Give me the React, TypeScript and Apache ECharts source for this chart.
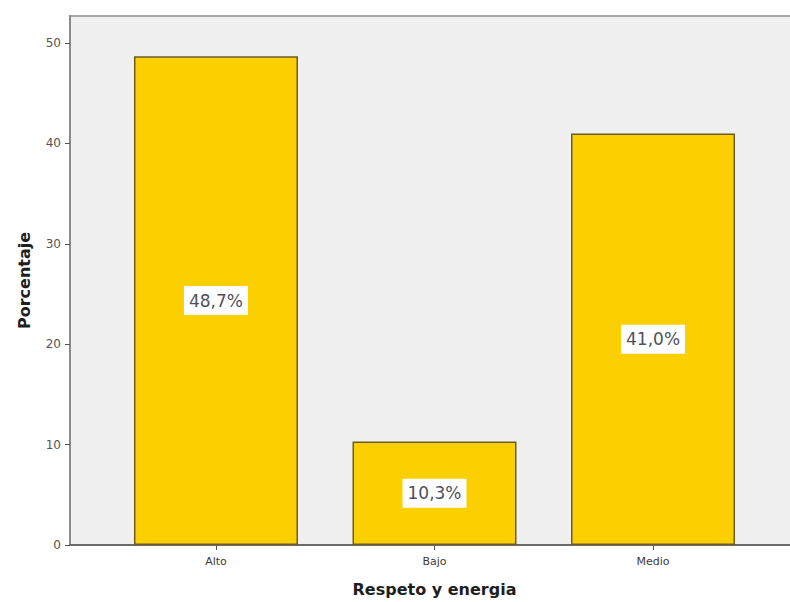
import React, { useEffect, useRef } from "react";
import * as echarts from "echarts";

const categories = ["Alto", "Bajo", "Medio"];
const percentages = [48.7, 10.3, 41.0];
const yTicks = [0, 10, 20, 30, 40, 50];

export default function App() {
  const ref = useRef<HTMLDivElement>(null);
  useEffect(() => {
    if (!ref.current) return;
    const chart = echarts.init(ref.current, undefined, { renderer: "svg" });
    const font = "DejaVu Sans, Verdana, sans-serif";
    chart.setOption({
      animation: false,
      textStyle: { fontFamily: font },
      grid: {
        left: 70,
        top: 16,
        right: -9,
        bottom: 57,
        outerBoundsMode: "none",
        containLabel: false,
        show: true,
        backgroundColor: "#f0f0f0",
        borderColor: "#a8a8a8",
        borderWidth: 2,
      },
      xAxis: {
        type: "value",
        min: -0.668,
        max: 2.668,
        name: "Respeto y energia",
        nameLocation: "middle",
        nameGap: 36,
        nameTextStyle: { fontFamily: font, fontWeight: "bold", fontSize: 16, color: "#1e1e1e" },
        splitLine: { show: false },
        axisLine: { show: true, onZero: false, lineStyle: { color: "#6a6a6a", width: 2 } },
        axisTick: {
          show: true,
          length: 5,
          customValues: [0, 1, 2],
          lineStyle: { color: "#555", width: 1 },
        },
        axisLabel: {
          customValues: [0, 1, 2],
          formatter: (v: number) => categories[Math.round(v)] ?? "",
          fontFamily: font,
          fontSize: 11,
          color: "#3a3a3a",
          margin: 11,
        },
      },
      yAxis: {
        type: "value",
        min: 0,
        max: 52.7,
        name: "Porcentaje",
        nameLocation: "middle",
        nameGap: 38,
        nameTextStyle: { fontFamily: font, fontWeight: "bold", fontSize: 16, color: "#1e1e1e" },
        splitLine: { show: false },
        axisLine: { show: true, onZero: false, lineStyle: { color: "#8a8a8a", width: 2 } },
        axisTick: {
          show: true,
          length: 5,
          customValues: yTicks,
          lineStyle: { color: "#555" },
        },
        axisLabel: {
          customValues: yTicks,
          fontFamily: font,
          fontSize: 12,
          color: "#555",
          margin: 9,
        },
      },
      series: [
        {
          type: "bar",
          data: percentages.map((v, i) => [i, v]),
          barWidth: 164,
          itemStyle: { color: "#fcd000", borderColor: "#6b5d24", borderWidth: 1.5 },
          label: {
            show: true,
            position: "inside",
            formatter: (p: any) => String(p.value[1].toFixed(1)).replace(".", ",") + "%",
            fontFamily: font,
            fontSize: 17,
            color: "#50505a",
            backgroundColor: "#ffffff",
            padding: [7, 5, 5, 5],
          },
        },
      ],
    });
    return () => chart.dispose();
  }, []);
  return <div ref={ref} style={{ width: 790, height: 602, position: "absolute", left: 0, top: 0 }} />;
}
